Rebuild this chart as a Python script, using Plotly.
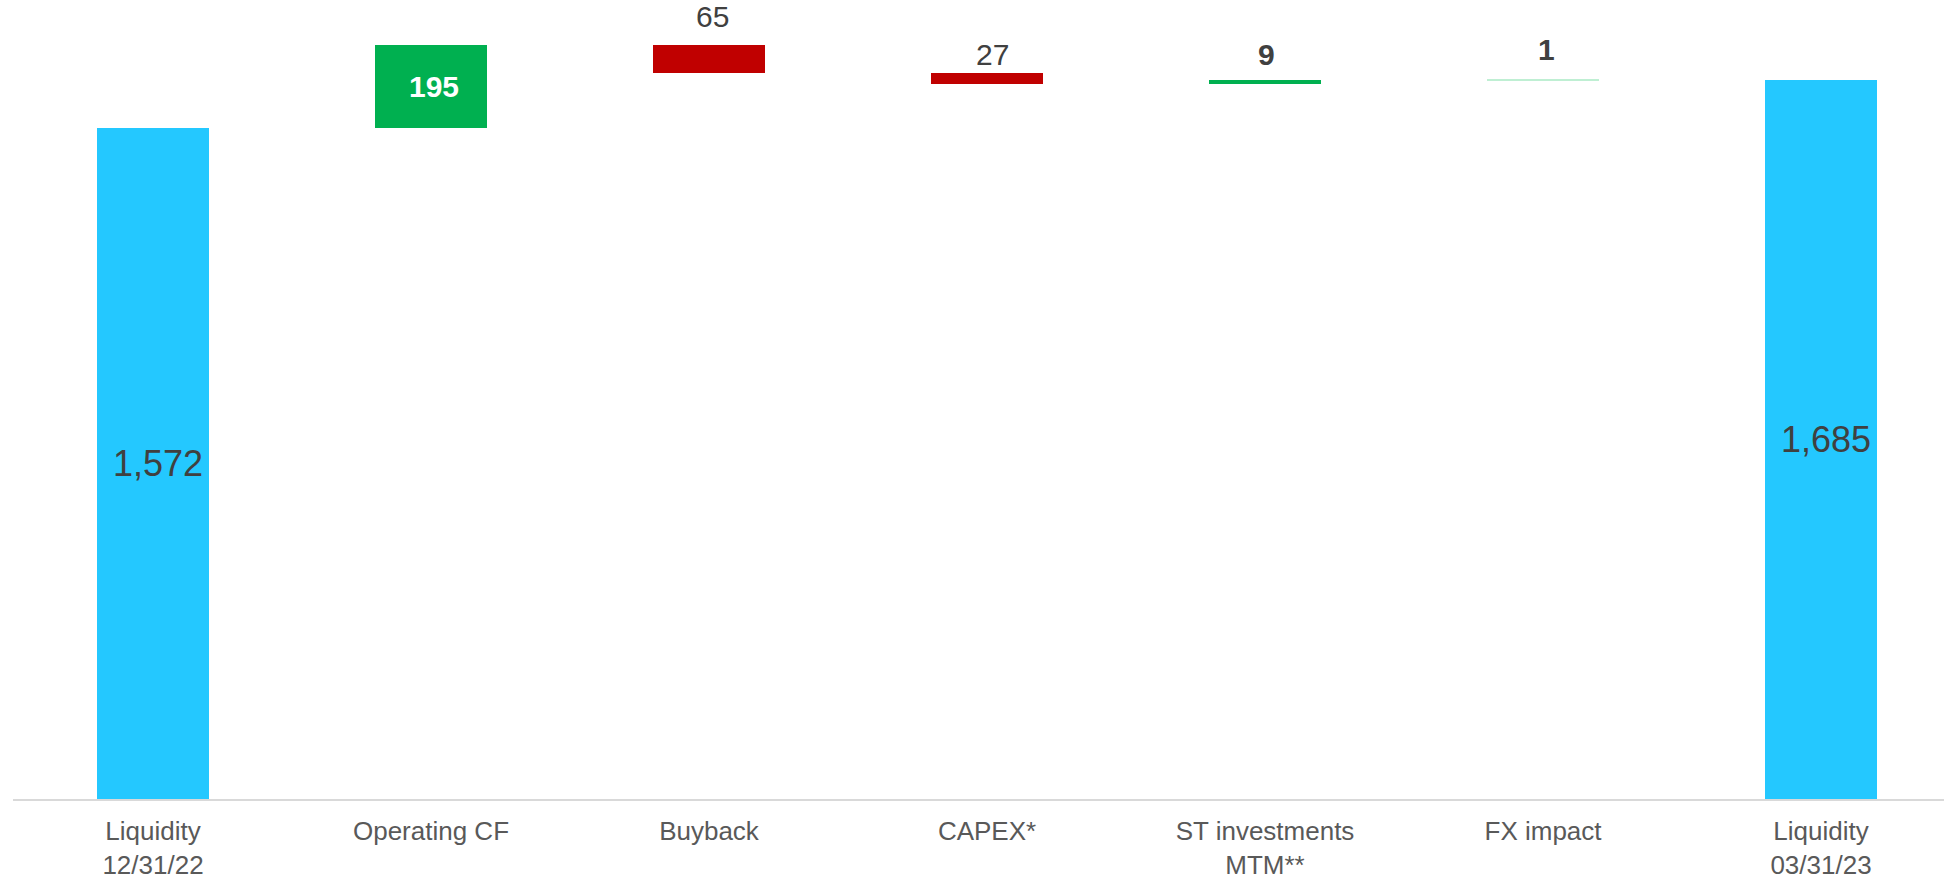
import plotly.graph_objects as go

# ---- data ----
categories = ["Liquidity<br>12/31/22", "Operating CF", "Buyback", "CAPEX*",
              "ST investments<br>MTM**", "FX impact", "Liquidity<br>03/31/23"]
measures = ["total", "relative", "relative", "relative", "relative", "relative", "total"]
values = [1572, 195, -65, -27, 9, 1, 1685]

# ---- styling ----
BLUE = "#24C8FF"
GREEN = "#00B050"
RED = "#C00000"
PALE_GREEN = "#BFEFD3"
bar_colors = [BLUE, GREEN, RED, RED, GREEN, PALE_GREEN, BLUE]
label_bold = [False, True, False, False, True, True, False]
label_inside = [True, True, False, False, False, False, True]
label_color = ["#404040", "#FFFFFF", "#404040", "#404040", "#404040", "#404040", "#404040"]
label_size = [36, 30, 30, 30, 30, 30, 36]
label_yshift = [0, 0, 28, 18, 26, 30, 0]
label_xshift = [5, 3, 3, 5, 1, 3, 5]

# compute bases / heights from values
bases, heights, tops = [], [], []
running = 0
for m, v in zip(measures, values):
    if m == "total":
        bases.append(0)
        heights.append(v)
        running = v
        tops.append(v)
    else:
        if v >= 0:
            bases.append(running)
            heights.append(v)
            tops.append(running + v)
        else:
            bases.append(running + v)
            heights.append(-v)
            tops.append(running)
        running += v

x_idx = list(range(len(categories)))

fig = go.Figure()
fig.add_trace(go.Bar(
    x=x_idx, y=heights, base=bases,
    marker=dict(color=bar_colors, line=dict(width=0)),
    width=0.4, hoverinfo="skip", showlegend=False,
))

annotations = []
for i, v in enumerate(values):
    txt = f"{abs(v):,}"
    if label_bold[i]:
        txt = f"<b>{txt}</b>"
    if label_inside[i]:
        y = bases[i] + heights[i] / 2
    else:
        y = tops[i]
    annotations.append(dict(
        x=i, y=y, xref="x", yref="y", text=txt, showarrow=False,
        xanchor="center", yanchor="middle",
        xshift=label_xshift[i], yshift=label_yshift[i],
        font=dict(family="Liberation Sans, Arial, sans-serif",
                  size=label_size[i], color=label_color[i]),
    ))

fig.update_layout(
    width=1944, height=881,
    margin=dict(l=13, r=0, t=0, b=82, pad=0, autoexpand=False),
    paper_bgcolor="white", plot_bgcolor="white",
    bargap=0,
    annotations=annotations,
    xaxis=dict(
        range=[-0.5036, 6.4424],
        tickmode="array", tickvals=x_idx, ticktext=categories,
        showgrid=False, zeroline=False, automargin=False,
        showline=True, linecolor="#D9D9D9", linewidth=2,
        ticks="", ticklabelstandoff=8,
        tickfont=dict(family="Liberation Sans, Arial, sans-serif",
                      size=26, color="#595959"),
    ),
    yaxis=dict(range=[0, 1872], visible=False, showgrid=False, zeroline=False,
               automargin=False),
    font=dict(family="Liberation Sans, Arial, sans-serif"),
)

fig.write_html("out.html")
